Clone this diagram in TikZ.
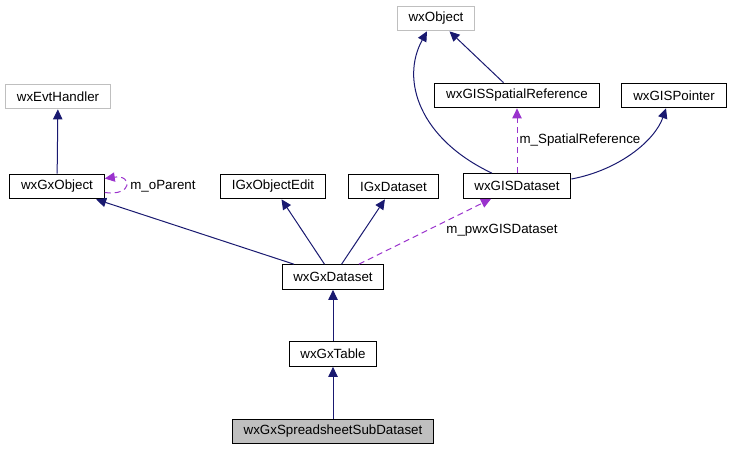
\documentclass[tikz,border=0pt]{standalone}
\usepackage{fontspec}
\setmainfont{Liberation Sans}
\usetikzlibrary{arrows.meta,calc}
\definecolor{dxnavy}{HTML}{191970}
\definecolor{dxpurple}{HTML}{9A32CD}
\definecolor{dxgray}{HTML}{BFBFBF}
\begin{document}
\begin{tikzpicture}[x=0.75pt, y=-0.75pt, font=\fontsize{10}{12}\selectfont,
    cls/.style={draw, line width=0.75pt, inner xsep=8.5pt, inner ysep=0pt, minimum height=18.5pt},
    ext/.style={cls, draw=dxgray},
    inh/.style={draw=dxnavy, line width=0.75pt, -{Triangle[length=7.5pt,width=7pt]}},
    use/.style={draw=dxpurple, line width=0.75pt, dash pattern=on 4.5pt off 3pt, -{Triangle[length=7.5pt,width=7pt]}}]
  \useasboundingbox (0,0) rectangle (731,451);
  % classes
  \node[ext] (wxObject) at (436,18.5) {wxObject};
  \node[ext] (wxEvtHandler) at (58,96.5) {wxEvtHandler};
  \foreach \name/\x/\y in {wxGISSpatialReference/517/95.5, wxGISPointer/674/95.5,
      wxGxObject/57/186.5, IGxObjectEdit/273/186.5, IGxDataset/393.5/186.5,
      wxGISDataset/517/186, wxGxDataset/333/277, wxGxTable/333/354}
    \node[cls] (\name) at (\x,\y) {\name};
  \node[cls, fill=dxgray] (wxGxSpreadsheetSubDataset) at (333,431.5) {wxGxSpreadsheetSubDataset};
  % inheritance
  \draw[inh] (wxGxObject) -- (wxEvtHandler);
  \draw[inh] (wxGxDataset) -- (wxGxObject);
  \draw[inh] (wxGxDataset) -- (IGxObjectEdit);
  \draw[inh] (wxGxDataset) -- (IGxDataset);
  \draw[inh] (wxGxTable) -- (wxGxDataset);
  \draw[inh] (wxGxSpreadsheetSubDataset) -- (wxGxTable);
  \draw[inh] (wxGISSpatialReference) -- (wxObject);
  \draw[inh] ($(wxGISDataset.north)+(-25,0)$) .. controls +(-72,-34) and +(-27,49) .. ($(wxObject.south)+(-9,0)$);
  \draw[inh] ($(wxGISDataset.east)+(0,-7)$) .. controls +(48,-9) and +(-11,32) .. ($(wxGISPointer.south)+(-8,0)$);
  % members
  \draw[use] ($(wxGxObject.east)+(0,6)$) .. controls +(28,4) and +(28,-4) .. ($(wxGxObject.east)+(0,-8)$);
  \draw[use] (wxGxDataset) -- (wxGISDataset);
  \draw[use] (wxGISDataset) -- (wxGISSpatialReference);
  \node (lblParent) at (163,186) {m\_oParent};
  \node (lblDataset) at (502,230) {m\_pwxGISDataset};
  \node (lblSpatial) at (580,140) {m\_SpatialReference};
\end{tikzpicture}
\end{document}
